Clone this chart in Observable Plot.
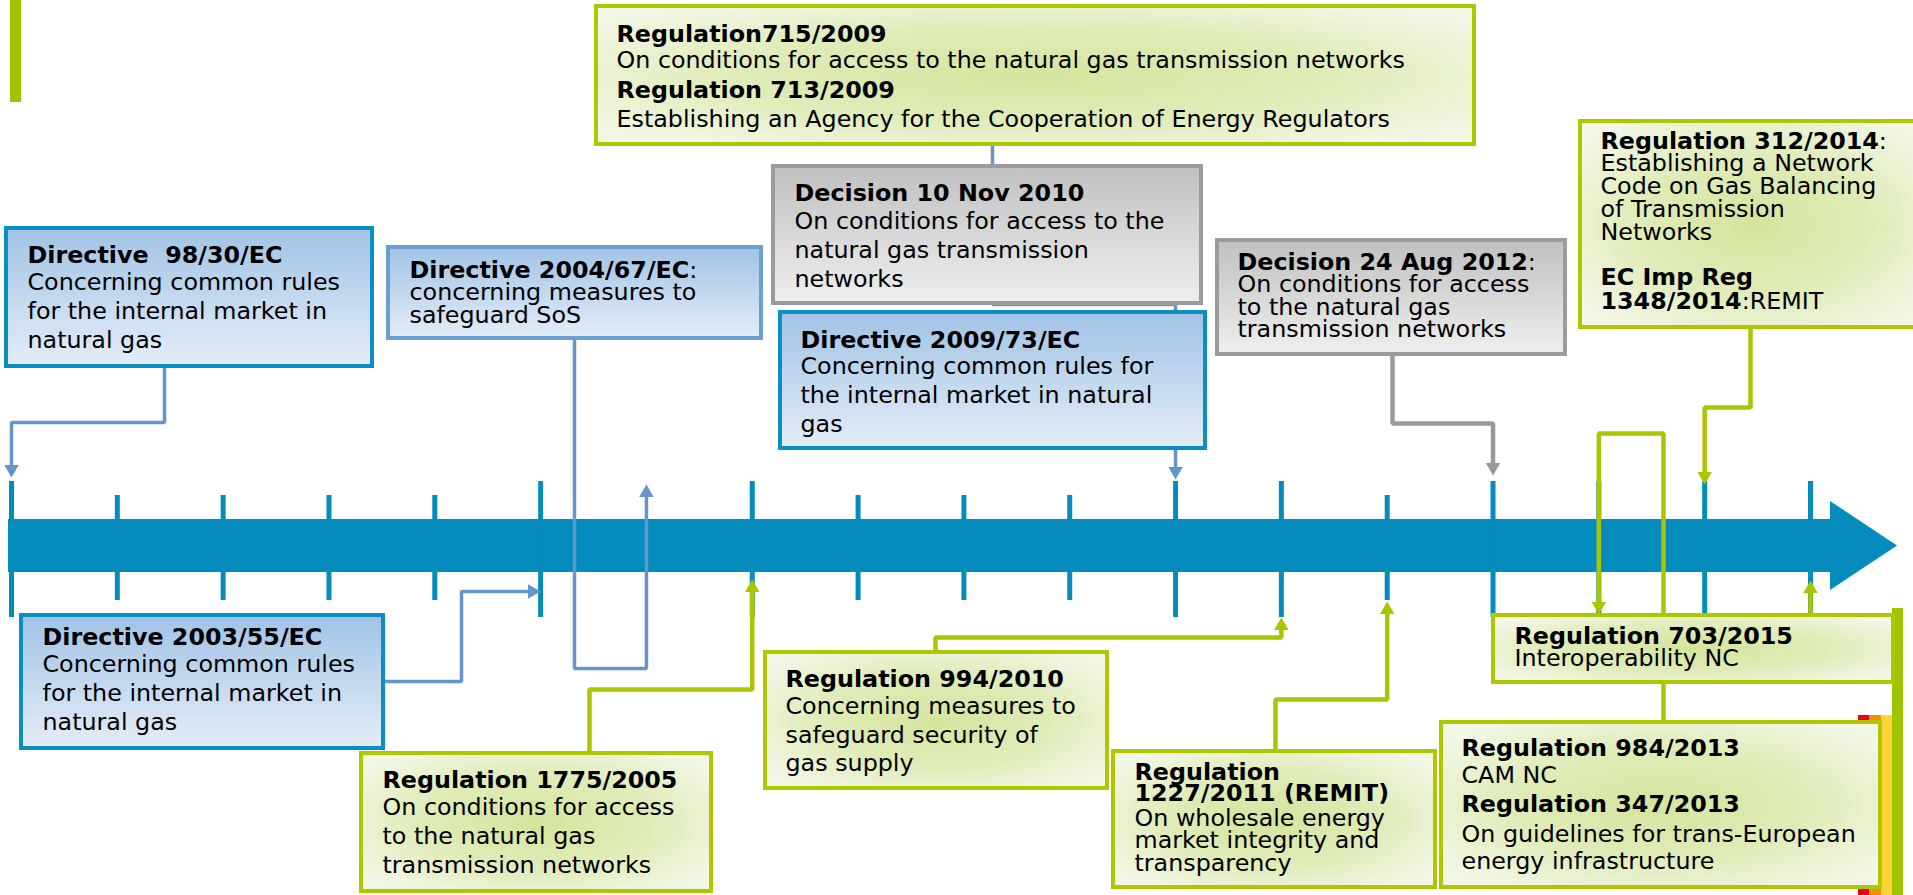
<!DOCTYPE html>
<html><head><meta charset="utf-8">
<script src="https://cdn.jsdelivr.net/npm/d3@7"></script>
<script src="https://cdn.jsdelivr.net/npm/@observablehq/plot@0.6"></script>
<style>
html,body{margin:0;padding:0;background:#fff;overflow:hidden}
svg text{white-space:pre}
</style>
</head><body><div id="chart"></div>
<script>
// ================= DATA =================
// timeline ticks (years)
const tickYears     = [1998,1999,2000,2001,2002,2003,2005,2006,2007,2008,2009,2010,2011,2012,2013,2014,2015];
const longTickYears = [1998,2003,2005,2009,2010,2012,2013,2014,2015];

// events
const eventIds   = ["d9830","d200467","r7152009","dec2010","d200973","dec2012","r3122014","d200355","r17752005","r9942010","r12272011","r7032015","r9842013"];
const eventYears = [1998,2004,2009,2010,2009,2012,2014,2003,2005,2010,2011,2015,2013];
const eventKinds = ["directive","directive2","regulation","decision","directive","decision","regulation","directive","regulation","regulation","regulation","regulation","regulation"];
const eventLines = [
  [["b","Directive  98/30/EC"],["n","Concerning common rules"],["n","for the internal market in"],["n","natural gas"]],
  [["b","Directive 2004/67/EC",":"],["n","concerning measures to"],["n","safeguard SoS"]],
  [["b","Regulation715/2009"],["n","On conditions for access to the natural gas transmission networks"],["b","Regulation 713/2009"],["n","Establishing an Agency for the Cooperation of Energy Regulators"]],
  [["b","Decision 10 Nov 2010"],["n","On conditions for access to the"],["n","natural gas transmission"],["n","networks"]],
  [["b","Directive 2009/73/EC"],["n","Concerning common rules for"],["n","the internal market in natural"],["n","gas"]],
  [["b","Decision 24 Aug 2012",":"],["n","On conditions for access"],["n","to the natural gas"],["n","transmission networks"]],
  [["b","Regulation 312/2014",":"],["n","Establishing a Network"],["n","Code on Gas Balancing"],["n","of Transmission"],["n","Networks"],["b","EC Imp Reg"],["b","1348/2014",":REMIT"]],
  [["b","Directive 2003/55/EC"],["n","Concerning common rules"],["n","for the internal market in"],["n","natural gas"]],
  [["b","Regulation 1775/2005"],["n","On conditions for access"],["n","to the natural gas"],["n","transmission networks"]],
  [["b","Regulation 994/2010"],["n","Concerning measures to"],["n","safeguard security of"],["n","gas supply"]],
  [["b","Regulation"],["b","1227/2011 (REMIT)"],["n","On wholesale energy"],["n","market integrity and"],["n","transparency"]],
  [["b","Regulation 703/2015"],["n","Interoperability NC"]],
  [["b","Regulation 984/2013"],["n","CAM NC"],["b","Regulation 347/2013"],["n","On guidelines for trans-European"],["n","energy infrastructure"]]
];

// ================= LAYOUT / STYLE =================
const W = 1913, H = 895, FS = 23.8;
const X0 = 11, X1 = 1810;                 // pixel range of the year axis
const pxPerYear = (X1 - X0) / (2015 - 1998);
const px2yr = px => 1998 + (px - X0) / pxPerYear;

const BAND = "#048cbd", LB = "#6496cc", GR = "#abc500", GY = "#9a9a9a";
const kindStyle = {
  directive:  {stroke: "#0a8fc3", fill: "url(#gBlue)"},
  directive2: {stroke: "#6a9fd3", fill: "url(#gBlue)"},
  decision:   {stroke: "#9b9b9b", fill: "url(#gGray)"},
  regulation: {stroke: "#afc700", fill: "url(#gGreen)"}
};
const boxLayout = {
  d9830:     {x1:6,    x2:372,  y1:228, y2:366, tx:27,   base:[262,289,318,347]},
  d200467:   {x1:388,  x2:761,  y1:247, y2:338, tx:409,  base:[277,299,322]},
  r7152009:  {x1:596,  x2:1474, y1:6,   y2:144, tx:616,  base:[41,67,97,126]},
  dec2010:   {x1:773,  x2:1201, y1:166, y2:303, tx:794,  base:[200,228,257,286]},
  d200973:   {x1:780,  x2:1205, y1:312, y2:448, tx:800,  base:[347,373,402,431]},
  dec2012:   {x1:1217, x2:1565, y1:240, y2:354, tx:1237, base:[269,291,314,336]},
  r3122014:  {x1:1580, x2:1930, y1:121, y2:327, tx:1600, base:[148,170,193,216,239,284,308]},
  d200355:   {x1:21,   x2:383,  y1:615, y2:748, tx:42,   base:[644,671,700,729]},
  r17752005: {x1:361,  x2:711,  y1:753, y2:891, tx:382,  base:[787,814,843,872]},
  r9942010:  {x1:765,  x2:1107, y1:652, y2:788, tx:785,  base:[686,713,742,770]},
  r12272011: {x1:1113, x2:1435, y1:751, y2:887, tx:1134, base:[779,800,825,847,870]},
  r7032015:  {x1:1493, x2:1893, y1:615, y2:682, tx:1514, base:[643,665]},
  r9842013:  {x1:1441, x2:1880, y1:722, y2:887, tx:1461, base:[755,782,811,841,868]}
};
// "E" = the event's own year on the time axis
const connectorLayout = {
  d9830:     {color: LB, w: 3.5, dir: "down",  pts: [[164,366],[164,422],["E",422],["E",477]]},
  d200467:   {color: LB, w: 3.5, dir: "up",    pts: [[574,338],[574,668],["E",668],["E",484]]},
  d200355:   {color: LB, w: 3.5, dir: "right", pts: [[383,681],[461,681],[461,591],["E",591]]},
  r7152009:  {color: LB, w: 3.5, dir: "down",  pts: [[992,144],[992,304],["E",304],["E",479]]},
  r17752005: {color: GR, w: 4.5, dir: "up",    pts: [[589,753],[589,689],["E",689],["E",579]]},
  r9942010:  {color: GR, w: 4.5, dir: "up",    pts: [[935,652],[935,637],["E",637],["E",617]]},
  r12272011: {color: GR, w: 4.5, dir: "up",    pts: [[1275,751],[1275,699],["E",699],["E",601]]},
  dec2012:   {color: GY, w: 4.5, dir: "down",  pts: [[1392,354],[1392,423],["E",423],["E",475]]},
  r3122014:  {color: GR, w: 4.5, dir: "down",  pts: [[1750,327],[1750,407],["E",407],["E",484]]},
  r9842013:  {color: GR, w: 4.5, dir: "down",  pts: [[1663,722],[1663,433],["E",433],["E",614]]},
  r7032015:  {color: GR, w: 4.5, dir: "up",    pts: [["E",615],["E",580]]}
};
const decor = [
  {x1:10,   x2:21,   y1:0,   y2:102, fill:"#9ec400"},
  {x1:1858, x2:1869, y1:715, y2:895, fill:"#e3061a"},
  {x1:1869, x2:1881, y1:715, y2:895, fill:"#f39200"},
  {x1:1881, x2:1892, y1:715, y2:895, fill:"#fcd433"},
  {x1:1892, x2:1903, y1:608, y2:895, fill:"#9ec400"}
];
const band = {x1: 8, x2: 1830, y1: 519, y2: 572};
const head = [{x: 1830, y1: 501, y2: 590}, {x: 1897, y1: 545.5, y2: 545.5}];

// ================= BUILD ROWS =================
const ctx = document.createElement("canvas").getContext("2d");
const measure = (t, bold) => { ctx.font = `${bold ? "bold " : ""}${FS}px "DejaVu Sans"`; return ctx.measureText(t).width; };

const boxes = eventIds.map((id, i) => ({id, kind: eventKinds[i], ...boxLayout[id]}));
const lineRows = [], suffixRows = [];
eventIds.forEach((id, i) => {
  const L = boxLayout[id];
  eventLines[i].forEach((ln, j) => {
    lineRows.push({bold: ln[0] === "b", text: ln[1], x: px2yr(L.tx), y: L.base[j]});
    if (ln[2]) suffixRows.push({text: ln[2], x: px2yr(L.tx + measure(ln[1], ln[0] === "b")), y: L.base[j]});
  });
});

const TIP = 8.4; // distance from triangle tip to its centre
const linePts = [], arrows = [];
eventIds.forEach((id, i) => {
  const C = connectorLayout[id];
  if (!C) return;
  const pts = C.pts.map(p => ({x: p[0] === "E" ? eventYears[i] : px2yr(p[0]), y: p[1]}));
  const last = pts[pts.length - 1];
  let c = {...last}, rot = 0;
  if (C.dir === "down") { c.y = last.y - TIP; rot = 180; }
  if (C.dir === "up")   { c.y = last.y + TIP; rot = 0; }
  if (C.dir === "right"){ c.x = last.x - TIP / pxPerYear; rot = 90; }
  pts[pts.length - 1] = c;
  pts.forEach(p => linePts.push({id, color: C.color, w: C.w, ...p}));
  arrows.push({...c, rot, color: C.color});
});
const ticks = tickYears.map(y => ({year: y, long: longTickYears.includes(y)}));

// ================= PLOT =================
const px = v => px2yr(v);
const marks = [
  Plot.rect(decor, {x1: d => px(d.x1), x2: d => px(d.x2), y1: "y1", y2: "y2", fill: "fill"}),
  Plot.rect([band], {x1: d => px(d.x1), x2: d => px(d.x2), y1: "y1", y2: "y2", fill: BAND}),
  Plot.areaY(head, {x: d => px(d.x), y1: "y1", y2: "y2", fill: BAND}),
  Plot.ruleX(ticks, {x: "year", y1: d => d.long ? 481 : 495, y2: d => d.long ? 617 : 600, stroke: BAND, strokeWidth: 5}),
];
for (const w of [3.5, 4.5]) {
  marks.push(Plot.line(linePts.filter(d => d.w === w), {x: "x", y: "y", z: "id", stroke: "color", strokeWidth: w, strokeLinejoin: "miter", strokeLinecap: "butt"}));
}
marks.push(Plot.dot(arrows, {x: "x", y: "y", rotate: "rot", symbol: "triangle", r: 5.4, fill: "color", stroke: null}));
for (const k of Object.keys(kindStyle)) {
  marks.push(Plot.rect(boxes.filter(b => b.kind === k), {
    x1: d => px(d.x1), x2: d => px(d.x2), y1: "y1", y2: "y2",
    fill: kindStyle[k].fill, stroke: kindStyle[k].stroke, strokeWidth: 4
  }));
}
marks.push(Plot.text(lineRows.filter(d => d.bold), {x: "x", y: "y", text: "text", textAnchor: "start", lineAnchor: "bottom", fontSize: FS, fontWeight: "bold", fill: "#000"}));
marks.push(Plot.text(lineRows.filter(d => !d.bold), {x: "x", y: "y", text: "text", textAnchor: "start", lineAnchor: "bottom", fontSize: FS, fill: "#000"}));
marks.push(Plot.text(suffixRows, {x: "x", y: "y", text: "text", textAnchor: "start", lineAnchor: "bottom", fontSize: FS, fill: "#000"}));

const chart = Plot.plot({
  width: W, height: H, margin: 0,
  x: {domain: [1998, 2015], range: [X0, X1], axis: null},
  y: {domain: [0, H], range: [0, H], axis: null},
  color: {type: "identity"},
  style: {fontFamily: "'DejaVu Sans', sans-serif", background: "#fff", overflow: "hidden"},
  marks
});

const defs = d3.select(chart).insert("defs", ":first-child");
defs.html(`
  <linearGradient id="gBlue" x1="0" y1="0" x2="0" y2="1">
    <stop offset="0" stop-color="#a1c3e6"/><stop offset="1" stop-color="#e4edf7"/>
  </linearGradient>
  <linearGradient id="gGray" x1="0" y1="0" x2="0" y2="1">
    <stop offset="0" stop-color="#c0c0c0"/><stop offset="1" stop-color="#efefef"/>
  </linearGradient>
  <radialGradient id="gGreen" cx="0.5" cy="0.5" r="0.62">
    <stop offset="0" stop-color="#d4e59d"/><stop offset="0.55" stop-color="#e0ecb9"/><stop offset="1" stop-color="#f3f7e6"/>
  </radialGradient>
`);
document.getElementById("chart").appendChild(chart);
</script>
</body></html>
